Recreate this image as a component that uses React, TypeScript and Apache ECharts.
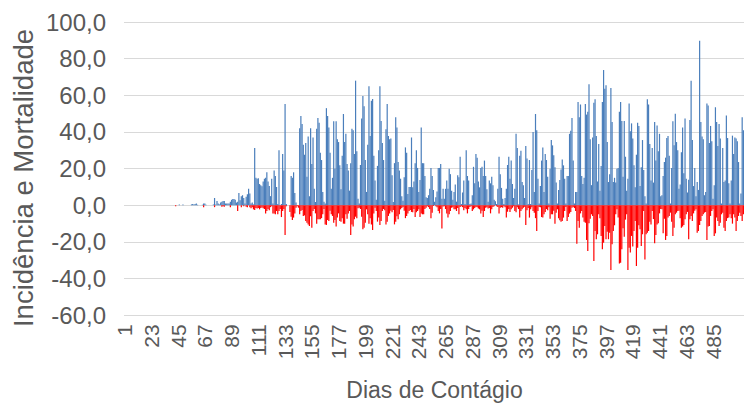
import React, { useEffect, useRef } from "react";
import * as echarts from "echarts";

// Incidência (positive) by day, segments
const incA = [
  0,0,0,0,0,0,0,0,0,0, 0,0,0,0,0,0,0,0,0,0, 0,0,0,0,0,0,0,0,0,0, 0,0,0,0,0,0,0,0,0,0, 0,0,
  0,0,0,0.5,0,0,0.5,0,0,0,
];
const incB = [
  0,0,0,0.5,0.7,0.5,0.7,1,0.3,0,
  0,0,0.3,1,1,0.3,0,0,0,0,
  0,0.5,4,0.5,2.4,1,0.5,1.5,2,2.3,
  2.4,1,1,1,1,2,3,3.5,3.5,3,
  1.5,2,6.7,2.7,5,5.5,4,1,4.7,6,
  9,6.5,1,1.5,0.5,31.3,15,14.5,14.8,11.6,
  11,10.4,13,14.5,15,
];
const incC = [
  18,13,10.5,5,14.5,1,19,16,10,0.7,
  30,0,0.7,28,19,55.3,0.7,0,0,0,
  16,15,18,6.7,1.5,0,0,42,48.7,44.4,
  33,27.6,34,15.6,37.5,5,42,22.5,37,9,
  1.8,41.8,47.6,45,28.7,24.7,7.3,2,1,53,
  48.7,42.5,28.7,9,15,45.8,20,45.8,36,34.5,
  21.8,8.7,27,49.8,
];
const incD = [
  34.5,39,22.5,19,8,23,41.8,41,28,68,
  29.5,3.6,1,22,47.3,59.6,54,24.7,7.3,33,
  65,37.8,57,58,27,13.5,3,21.5,30,65,
  46,34,24.7,2.5,41.5,55.3,37.8,36,36.4,16.4,
  1.8,23,48,42.5,23.6,19,14.5,5,2.5,15.3,
  31.6,28.7,6.2,10,10,37,9.8,13,23,30,
  20.4,7.3,13.8,42.5,23,
];
const incE = [
  23,16,4.4,4,5.5,9,20.4,16,8.4,2,
  4.4,7.6,20.4,20.4,22.5,3.6,9,3.6,9,13.5,
  9,20,17,8,3,7.3,11.3,2,16.4,15.3,
  26.5,0.7,7,13.5,0.7,30,16,13.5,0.7,1,
  5.5,21,12,28,26,13,9.8,20.4,21,16,
  24.4,16,8.7,2,13.5,12,15.6,11,3,2.2,
  0.7,9,26.5,17,
];
const incF = [
  9.5,3.6,0.7,4,9,22,26.5,14.5,24.4,11.6,
  4,9,39,31.3,0.5,27,29.8,12.7,11,4,
  32.4,25.5,0.7,24.7,0.7,19.3,40,7.3,49.8,41,
  14.5,1,10.5,24.4,31.6,7.3,28,24.7,15.6,1,
  20,35.6,32.7,27.3,20.7,12.4,1,8.4,13.8,19.6,
  25,21.8,14.5,1,16,16,39,40.7,47.6,24.4,
  1,7.3,7.3,56.4,
];
const incG = [
  48,55,16,11.6,15,55.3,49.5,51,66,36,
  11,37,56,57.8,37.8,13,33.5,8,21.5,56.4,
  73.8,63.6,65.5,34.5,12.7,17,64,45.5,12.7,15,
  12.4,20,20.4,51,56.4,46,15.6,46,26.5,8,
  14.5,55.6,40.4,44.7,36.4,21.8,9.8,27.6,45,43.3,
  10.5,20.7,35.6,19.3,5,1,57.8,55,33.5,13.5,
  31.3,12.4,45.5,24.4,43.6,29.5,
];
const incH = [
  39,5,5.5,16,23.6,26,36.7,37.8,27,1,
  20.4,45.8,32.7,50,34.5,30,9,11.3,29,42.5,
  17.5,47.3,14.5,7,14,46.5,68,35.6,10.5,20.4,
  5,12.7,8.4,89.8,45.5,37.5,36,5.5,7.3,55.6,
  54.5,34,43.3,35,3.6,11,53.5,45.5,32.4,44.4,
  36.4,1,31.3,12.7,13.5,49,36.7,12,1,13.5,
  38,28,37,36.4,35,23.6,1,6.5,48,41,
];

// Mortalidade (negative) by day, segments
const mortA = [
  0,0,0,0,0,0,0,0,0,0, 0,0,0,0,0,0,0,0,0,0, 0,0,0,0,0,0,0,0,0,0, 0,0,0,0,0,0,0,0,0,0, 0,0,
  -0.5,0,0,0,0,0,0,0,0,0,
];
const mortB = [
  0,0,0,0,0,0,0,0,0,0,
  0,0,0,-1,0,0,0,0,0,0,
  0,0,-1,0,0,0,0,0,-0.8,-0.5,
  -0.8,0,0,0,0,-1,0,0,0,0,
  0,-3.1,0,0,-1,0,-0.5,0,-0.8,-1,
  0,-1,-1.6,-1,-2.2,-2.5,-1.5,-1.8,-1.5,-2.2,
  -1.5,-1.2,-1.6,-2,-4.4,
];
const mortC = [
  -3.1,-2,-2.7,-1,-0.5,-4.4,-4.4,-4.9,-3.1,-4.9,
  -3.1,-2,-6.4,-3.1,-2,-16.2,-0.5,0,0,-3.6,
  -6.2,-8,-6.7,-4.4,-1.3,-0.5,-1.3,-4.9,-3.1,-2.5,
  -5.8,-5.5,-8.5,-9.5,-10.4,-11.3,-6,-12.2,-3.1,-2,
  -4.4,-10,-7.6,-7.6,-7.6,-7,-4.9,-2,-10.4,-10.7,
  -8,-8.5,-3,-4.9,-5.8,-9.5,-8,-11.5,-6.7,-4.4,
  -8.5,-9,-7,-10,
];
const mortD = [
  -10,-4.9,-7.3,-4.4,-3.1,-16.2,-10.4,-11.6,-7.6,-6.2,
  -7,-1.6,-1.3,-2,-6.2,-13.1,-12.2,-9.5,-2.2,-4.9,
  -10,-7,-10.4,-13.5,-4.4,-1.3,-3.1,-8.9,-6.7,-10.7,
  -8.5,-3.1,-2,-2.7,-10.4,-8.9,-5.8,-4.4,-3,-3.8,
  -2.5,-10.4,-8.9,-6,-7.6,-4.9,-2.2,-1.5,-0.9,-3,
  -7,-5.8,-4.4,-3.1,-2.5,-3.6,-3.8,-2,-6.4,-3.8,
  -3.1,-2.2,-6.4,-4.4,-4.9,
];
const mortE = [
  -4.9,-2,-1.3,-0.5,-1,-2,-7,-4,-0.4,0,
  -0.5,-1,-3.1,-4.4,-2,-12.7,-0.7,-0.5,-2,-4.4,
  -6.7,-4.9,-3.1,-1.3,-1,-2.2,-2.2,-3.1,-1.5,-4.9,
  -0.9,-0.5,-1,-2.7,-1.5,-2.2,-4.4,-2,-0.9,-0.5,
  -3.1,-2.2,-1.5,-0.9,-1,-1.8,-2.2,-4.4,-3,-6.4,
  -3.1,-1.3,-1,-1.8,-1.5,-4.4,-2.2,-0.9,-0.5,0,
  -0.5,-0.9,-4.4,-1.3,
];
const mortF = [
  -1,-1.3,-0.5,-1,-6.7,-3.5,-2,-3.6,-2.2,-1.3,
  -0.5,-3.1,-3.8,-1,-2,-6.7,-3.1,-2.2,-1.3,-0.8,
  -10.7,-2.7,-1.5,-6.7,-2.2,-1,-3.1,-4,-7,-14,
  -3.1,-0.9,-1,-6.4,-6.7,-4.9,-3.6,-2,-2.7,-1,
  -7.3,-4.9,-4.9,-3,-10,-4,-2.2,-7,-8.2,-8.9,
  -8.5,-6.7,-3.1,-0.9,-8.5,-6.4,-4.5,-3.6,-1.3,-0.9,
  -1.5,-3.1,-21,-8.5,
];
const mortG = [
  -12.2,-4.4,-3.1,-6.7,-8.9,-9.5,-18.9,-24.9,-9.8,-7.3,
  -4.9,-5.8,-30.4,-14,-18.5,-15.8,-4.9,-7,-16.7,-24,
  -20.4,-11.3,-18.5,-14.4,-18.5,-14.9,-35.3,-21.3,-14,-10.9,
  -4.9,-2.2,-6.7,-31.8,-31.3,-24,-12.5,-17.1,-7.8,-4.9,
  -35.3,-23.1,-25.8,-16.7,-22.5,-14,-8.5,-33.1,-23.1,-10.9,
  -13.1,-22.2,-15.8,-3.1,-29.5,-15.8,-14.9,-14,-8.9,-10.4,
  -3.1,-7.5,-20.7,-16.2,-10.4,-9.8,
];
const mortH = [
  -4.4,-2,-2.2,-15.3,-7.3,-18.9,-16.7,-6.7,-5.8,-4,
  -8.9,-16.7,-12.2,-4.9,-4,-3.1,-3,-7,-12.2,-11.6,
  -10.7,-7.6,-4.9,-3.6,-18.5,-7.6,-5.8,-8.5,-4.4,-3,
  -2.2,-14.9,-14,-10.7,-8.5,-5.8,-4.9,-4,-3.6,-18.9,
  -11.6,-11.3,-5.8,-3.1,-2.2,-16.7,-15.3,-6.7,-8.5,-11.3,
  -9.5,-4.9,-4,-12.2,-14,-8.5,-7,-6.7,-4.9,-7,
  -10,-4.9,-6.7,-14,-8.5,-5.8,-4,-5.8,-8.5,-4.9,
];

const incidencia = [...incA, ...incB, ...incC, ...incD, ...incE, ...incF, ...incG, ...incH];
const mortalidade = [...mortA, ...mortB, ...mortC, ...mortD, ...mortE, ...mortF, ...mortG, ...mortH];
const dias: string[] = incidencia.map((_, i) => String(i + 1));

// label step of the category axis and the last label shown
const labelStep = 22;
const lastLabel = 485;

const yTitle = "Incidência e Mortalidade";
const xTitle = "Dias de Contágio";

export default function App() {
  const ref = useRef<HTMLDivElement>(null);
  useEffect(() => {
    if (!ref.current) return;
    const chart = echarts.init(ref.current, undefined, { renderer: "svg" });
    chart.setOption({
      animation: false,
      backgroundColor: "#ffffff",
      grid: { left: 124, right: 0, top: 22, bottom: 87.7, containLabel: false },
      xAxis: {
        type: "category",
        data: dias,
        axisLine: { show: false },
        axisTick: { show: false },
        axisLabel: {
          interval: (index: number) => index % labelStep === 0 && index + 1 <= lastLabel,
          rotate: 90,
          margin: 9,
          color: "#595959",
          fontSize: 21,
          fontFamily: "Liberation Sans",
        },
        splitLine: { show: false },
      },
      yAxis: {
        type: "value",
        min: -60,
        max: 100,
        interval: 20,
        axisLine: { show: false },
        axisTick: { show: false },
        axisLabel: {
          margin: 18,
          color: "#595959",
          fontSize: 24,
          fontFamily: "Liberation Sans",
          formatter: (v: number) => v.toFixed(1).replace(".", ","),
        },
        splitLine: { lineStyle: { color: "#D9D9D9", width: 1 } },
      },
      graphic: [
        {
          type: "text",
          x: 23,
          y: 178,
          rotation: Math.PI / 2,
          style: {
            text: yTitle,
            fill: "#595959",
            font: "27.5px 'Liberation Sans'",
            align: "center",
            verticalAlign: "middle",
          },
        },
        {
          type: "text",
          x: 434.5,
          y: 389.5,
          style: {
            text: xTitle,
            fill: "#595959",
            font: "23px 'Liberation Sans'",
            align: "center",
            verticalAlign: "middle",
          },
        },
      ],
      series: [
        {
          name: "Incidência",
          type: "bar",
          data: incidencia,
          barWidth: 1.2,
          barGap: "-100%",
          itemStyle: { color: "#4A7EBB" },
        },
        {
          name: "Mortalidade",
          type: "bar",
          data: mortalidade,
          barWidth: 1.2,
          barGap: "-100%",
          itemStyle: { color: "#FF0000" },
        },
      ],
    });
    return () => chart.dispose();
  }, []);
  return (
    <div
      ref={ref}
      style={{ position: "absolute", left: 0, top: 0, width: 744, height: 403 }}
    />
  );
}
